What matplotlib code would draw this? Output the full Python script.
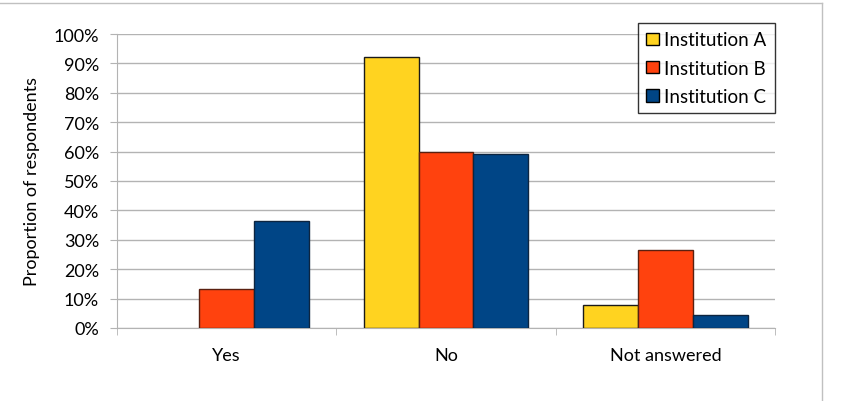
import matplotlib.pyplot as plt
from matplotlib.lines import Line2D
from matplotlib.ticker import FuncFormatter
import numpy as np

plt.rcParams['font.family'] = ['Lato', 'DejaVu Sans']

categories = ["Yes", "No", "Not answered"]
series_names = ["Institution A", "Institution B", "Institution C"]
inst_a = [0.0, 0.923, 0.077]
inst_b = [0.133, 0.600, 0.267]
inst_c = [0.364, 0.591, 0.045]
colors = ["#FFD320", "#FF420E", "#004586"]
edges = ["#1a1a1a", "#5a2010", "#0d2540"]

fig = plt.figure(figsize=(8.45, 4.02), dpi=100)
ax = fig.add_axes([117 / 845, 1 - 329 / 402, (775 - 117) / 845, (329 - 35) / 402])

x = np.arange(len(categories))
w = 0.25
for i, (vals, name) in enumerate(zip([inst_a, inst_b, inst_c], series_names)):
    # no outline for empty bars
    lws = [0 if v == 0 else 1.0 for v in vals]
    ax.bar(x + (i - 1) * w, vals, w, color=colors[i], edgecolor=edges[i],
           linewidth=lws, label=name, zorder=3)

ax.set_xlim(-0.5, 2.5)
ax.set_ylim(0, 1.0)
ax.set_yticks(np.arange(0, 1.01, 0.1))
ax.yaxis.set_major_formatter(FuncFormatter(lambda v, p: "{:.0f}%".format(v * 100)))
ax.grid(axis="y", color="#b3b3b3", linewidth=1.0, zorder=0)
ax.set_xticks(x)
ax.set_xticklabels(categories)
ax.set_xticks([-0.5, 0.5, 1.5, 2.5], minor=True)
ax.tick_params(axis="x", which="major", length=0, pad=14, labelsize=13)
ax.tick_params(axis="x", which="minor", length=5, color="#b3b3b3")
ax.tick_params(axis="y", length=5, color="#b3b3b3", labelsize=13, pad=8)
for s in ["top", "right"]:
    ax.spines[s].set_visible(False)
ax.spines["left"].set_color("#b3b3b3")
ax.spines["bottom"].set_color("#b3b3b3")
ax.set_ylabel("Proportion of respondents", fontsize=13, labelpad=10)

leg = ax.legend(loc="upper right", bbox_to_anchor=(1.0, 1 + 11 / 294),
                fontsize=13.5, frameon=True, fancybox=False, handlelength=0.65,
                handleheight=0.65, handletextpad=0.3, borderpad=0.45, labelspacing=0.6,
                borderaxespad=0.0)
leg.get_frame().set_edgecolor("black")
leg.get_frame().set_linewidth(1.0)
for h in leg.legend_handles:
    h.set_edgecolor("black")
    h.set_linewidth(1.0)

# outer chart frame
fig.add_artist(Line2D([0, 822 / 845], [1 - 4 / 402, 1 - 4 / 402], color="#c0c0c0", lw=1))
fig.add_artist(Line2D([822 / 845, 822 / 845], [1 - 4 / 402, 0], color="#c0c0c0", lw=1))

plt.savefig("out.png", dpi=100)
plt.close()
